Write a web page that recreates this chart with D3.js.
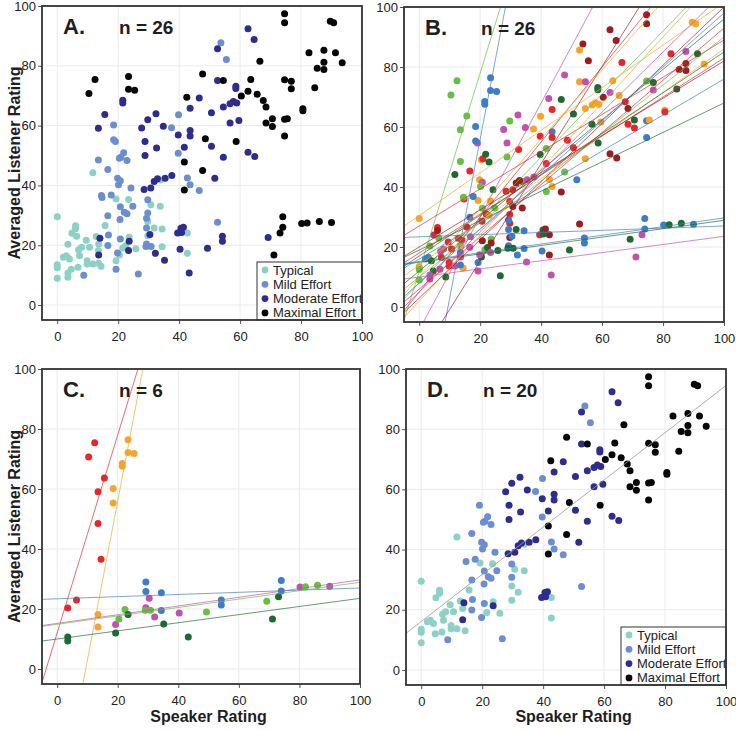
<!DOCTYPE html>
<html>
<head>
<meta charset="utf-8">
<script src="https://cdn.jsdelivr.net/npm/d3@7"></script>
<style>
  body { margin: 0; background: #fff; }
  svg { font-family: "Liberation Sans", Arial, sans-serif; }
</style>
</head>
<body>
<svg id="chart" width="736" height="730"></svg>
<script>
// points: [speaker rating, listener rating, colour in B, colour in C (only the six C speakers)]
const typical = [
  [0,29.5,"or"],[0,13.5,"or"],[0,12.5,"lg"],[0,9,"lg"],[2,16,"bl"],[3,16.5,"bl"],[4,15.4,"dg"],
  [4.8,24,"rd"],[6,26.5,"rd"],[6,25.5,"dr"],[4.6,12,"dg"],[6.8,12.6,"mg"],[7,18.5,"mg"],[7.3,16.5,"rd"],
  [8,19.3,"mg"],[9.5,21.7,"rd"],[9.8,14.8,"rd"],[9.8,13.7,"rd"],[10.6,19.3,"rd"],[11.7,13.7,"mg"],
  [12.8,22.9,"rd"],[13.6,20.4,"or"],[14.4,13,"or"],[15.7,26.6,"rd"],[11.7,44.2,"dg"],[19.3,35.5,"or"],
  [23.4,35.3,"or"],[23.6,22.7,"lg"],[21.5,19.1,"lg"],[25.8,18.8,"dg"],[29.7,27.9,"rd"],[29.7,23.2,"dr"],
  [30.7,33.5,"dr"],[31.8,25.8,"dg"],[33.8,33,"dr"],[33.8,41.8,"lg"],[42.7,24.1,"dr"],[42.7,17.3,"dr"],
  [3.5,20.3,"lg","rd"],[6.4,23,"lg","rd"],[13.5,18.2,"bl","or"],[13.5,14,"bl","or"],
  [34.4,25.4,"bl","bl"],[34.4,19.5,"bl","bl"],[19.3,14.8,"bl","mg"],[20.4,16.7,"dg","lg"],
  [22.4,19.8,"dg","lg"],[3.5,10.7,"mg","dg"],[3.5,9.3,"mg","dg"]
];
const mild = [
  [19.1,54.7,"mg"],[20.4,49.1,"or"],[20.9,49.4,"rd"],[21.8,50.9,"dg"],[22.9,48.3,"dg"],[16.6,45.3,"rd"],
  [14.7,36,"rd"],[17.7,36.8,"bl"],[19.8,42.4,"or"],[20.7,41.6,"mg"],[20.1,40.2,"lg"],[24.2,39.1,"dg"],
  [16.6,29.9,"bl"],[20.7,32.9,"lg"],[22,31,"rd"],[22.9,30.5,"or"],[24.8,33,"lg"],[20.6,28.6,"rd"],
  [16.8,23.4,"mg"],[16.6,19.9,"mg"],[19.8,17.4,"mg"],[20.7,22.1,"dr"],[8.7,10,"dg"],[26.6,10.4,"dg"],
  [29.7,35.2,"rd"],[29.7,30.8,"rd"],[39.8,63.6,"or"],[39.7,50.8,"dg"],[37.5,59.3,"or"],[42.7,42.5,"or"],
  [43.6,40.2,"or"],[46.6,38.3,"dr"],[53.7,87.7,"dr"],[55.5,82.1,"dr"],[52.6,27.7,"dr"],
  [13.5,48.5,"lg","rd"],[14.5,36.6,"lg","rd"],[18.5,60.2,"bl","or"],[18.5,55.3,"bl","or"],
  [29.3,29,"bl","bl"],[29.3,25.8,"bl","bl"],[29.3,20.4,"bl","mg"],[29.1,19.6,"dg","lg"],
  [30.8,19.6,"dg","lg"],[19.3,12,"mg","dg"]
];
const moderate = [
  [27.7,59.2,"mg"],[28.8,54.7,"mg"],[28.8,50,"lg"],[29.7,62,"lg"],[32.4,64,"mg"],[32.6,52.5,"rd"],
  [34.8,59.8,"mg"],[28.5,38.6,"rd"],[30.7,39.1,"rd"],[31.8,41.3,"dr"],[32.9,42.2,"dr"],[35.4,42.4,"mg"],
  [37.6,43.3,"mg"],[39.7,56.9,"rd"],[41.7,52.8,"lg"],[43.6,58.4,"bl"],[43.6,56.5,"rd"],[43.6,65.8,"rd"],
  [46.6,69.2,"dg"],[50.6,64.3,"dg"],[50.6,53.1,"rd"],[51.7,42.4,"bl"],[52.6,85.7,"or"],[52.6,75.1,"or"],
  [54.5,66.2,"or"],[54.5,49.4,"or"],[56.7,60.9,"dg"],[56.7,67.3,"or"],[57.8,68.1,"or"],[58.9,67.6,"or"],
  [58.6,73.2,"dg"],[58.6,72.4,"dg"],[59.6,61.7,"or"],[62.6,92.4,"dr"],[62.6,51.1,"dr"],[64.6,88.8,"dr"],
  [64.8,49.7,"dr"],[14,22.3,"rd"],[13.6,16.7,"mg"],[23.6,21.3,"dr"],[39.5,24.1,"rd"],[40.6,25.7,"dg"],
  [41.4,26,"dr"],[40.8,24.3,"dg"],
  [13.5,59.1,"lg","rd"],[15.6,63.7,"lg","rd"],[21.5,68.5,"bl","or"],[21.5,67.6,"bl","or"],
  [54.2,23,"bl","bl"],[54.2,21.3,"bl","bl"],[30.4,23.6,"bl","mg"],[32.2,17.3,"bl","mg"],
  [40.3,18.7,"bl","mg"],[49.3,19,"dg","lg"],[69.2,22.6,"dg","lg"],[23.4,18.2,"mg","dg"],
  [35.2,15,"mg","dg"],[43.3,10.7,"mg","dg"]
];
const maximal = [
  [42.5,69.5,"mg"],[41.7,47.8,"rd"],[41.7,38.5,"lg"],[47.7,77.3,"mg"],[47.7,45,"lg"],[48.6,55.6,"rd"],
  [54.5,75.1,"mg"],[58.7,54.7,"dg"],[60.4,69.9,"dr"],[62.6,71.5,"mg"],[63.5,75.4,"or"],[65.6,70.5,"or"],
  [66.5,81.5,"rd"],[67.6,68.4,"rd"],[68.5,66.2,"dr"],[68.5,60.9,"rd"],[70.6,62.3,"dg"],[70.6,59.7,"rd"],
  [74.6,97.4,"dr"],[74.6,94.4,"dr"],[74.6,75.3,"lg"],[74.6,62.1,"bl"],[75.5,62.3,"or"],[74.6,56.5,"bl"],
  [76.8,74.8,"dg"],[76.8,72.3,"mg"],[80.6,65.6,"or"],[80.6,65,"rd"],[82.6,84.4,"rd"],[84.5,72.7,"dg"],
  [85.3,79.2,"dr"],[87.5,85.2,"mg"],[87.5,81.2,"dr"],[87.5,78.8,"dr"],[89.6,94.9,"or"],[90.7,94.4,"or"],
  [91.3,84.4,"dg"],[93.5,81,"or"],
  [10.4,70.7,"lg","rd"],[12.4,75.4,"lg","rd"],[23.4,76.4,"bl","or"],[23.4,72.2,"bl","or"],
  [25.4,71.8,"bl","or"],[74,29.5,"bl","bl"],[74,26,"bl","bl"],[80.2,27.3,"bl","mg"],[90,27.6,"bl","mg"],
  [82,27.4,"dg","lg"],[86,27.9,"dg","lg"],[71.1,16.7,"mg","dg"],[73.1,24.1,"mg","dg"]
];

// per-speaker fit lines: [intercept, slope, colour]
const bLines = [
  [12,3.3,"lg"],[-50,5.3,"bl"],[23.4,0.036,"bl"],[15.2,0.145,"bl"],[14.9,0.14,"dg"],[10,0.1355,"mg"],
  [-7.6,1.89,"mg"],[-17,1.62,"dr"],[5,1.25,"rd"],[10,1.15,"or"],[8,1.05,"lg"],[30.5,0.71,"or"],
  [27,0.62,"rd"],[3,0.97,"dr"],[12,0.84,"dg"],[16,0.6,"bl"],[19,0.49,"dg"],[18,0.65,"rd"],
  [14,0.72,"or"],[10,0.8,"lg"],[6,0.87,"rd"],[5,1.0,"mg"],[17,0.68,"dg"],[2,1.1,"or"],
  [20,0.62,"dr"],[8,0.9,"bl"]
];
const cLines = [
  [12,3.3,"rd"],[-50,5.3,"or"],[23.4,0.036,"bl"],[15.2,0.145,"mg"],[14.9,0.14,"lg"],[10,0.1355,"dg"]
];
const dLine = [16.1, 0.784];

const severityNames = ["Typical", "Mild Effort", "Moderate Effort", "Maximal Effort"];
const severityColors = ["#8dd1c5", "#6b8ed0", "#2e2d8d", "#060606"];
const speakerColors = {
  bl: "#3c7dc5", lg: "#67be45", dg: "#1e6b32", rd: "#e5262b",
  or: "#f6a42c", mg: "#c251ae", dr: "#9b1d21"
};
const ticks = [0, 20, 40, 60, 80, 100];

const svg = d3.select("#chart");
const allPoints = [typical, mild, moderate, maximal]
  .flatMap((arr, s) => arr.map(p => ({x: p[0], y: p[1], sev: s, b: p[2], c: p[3]})));

const panels = [
  {id: "A", n: "26", x0: 42, x1: 362, y0: 6, y1: 320, yTitle: true, xTitle: false, legend: true},
  {id: "B", n: "26", x0: 404, x1: 724, y0: 7, y1: 322},
  {id: "C", n: "6", x0: 42, x1: 360, y0: 369, y1: 684, yTitle: true, xTitle: true},
  {id: "D", n: "20", x0: 406, x1: 726, y0: 369, y1: 685, xTitle: true, legend: true}
];

panels.forEach(drawPanel);

function drawPanel(cfg) {
  const g = svg.append("g");
  const x = d3.scaleLinear().domain([-5, 100]).range([cfg.x0, cfg.x1]);
  const y = d3.scaleLinear().domain([-5, 100]).range([cfg.y1, cfg.y0]);

  g.append("clipPath").attr("id", "clip" + cfg.id)
    .append("rect")
      .attr("x", cfg.x0).attr("y", cfg.y0)
      .attr("width", cfg.x1 - cfg.x0).attr("height", cfg.y1 - cfg.y0);

  // grid
  g.selectAll(".gx").data(ticks).join("line")
    .attr("x1", d => x(d)).attr("x2", d => x(d))
    .attr("y1", cfg.y0).attr("y2", cfg.y1)
    .style("stroke", "#ebebeb");
  g.selectAll(".gy").data(ticks).join("line")
    .attr("y1", d => y(d)).attr("y2", d => y(d))
    .attr("x1", cfg.x0).attr("x2", cfg.x1)
    .style("stroke", "#ebebeb");

  // axes
  const ax = g.append("g").attr("transform", `translate(0,${cfg.y1})`)
    .call(d3.axisBottom(x).tickValues(ticks).tickSize(4).tickPadding(8));
  const ay = g.append("g").attr("transform", `translate(${cfg.x0},0)`)
    .call(d3.axisLeft(y).tickValues(ticks).tickSize(4).tickPadding(2));
  [ax, ay].forEach(a => {
    a.select(".domain").remove();
    a.selectAll("line").style("stroke", "#555");
    a.selectAll("text").style("font-size", "13px").style("fill", "#222")
      .style("font-family", '"Liberation Sans", Arial, sans-serif');
  });

  const plot = g.append("g").attr("clip-path", `url(#clip${cfg.id})`);

  let pts, colour, lines = [];
  if (cfg.id === "A") { pts = allPoints; colour = d => severityColors[d.sev]; }
  if (cfg.id === "B") { pts = allPoints; colour = d => speakerColors[d.b]; lines = bLines; }
  if (cfg.id === "C") { pts = allPoints.filter(d => d.c); colour = d => speakerColors[d.c]; lines = cLines; }
  if (cfg.id === "D") {
    pts = allPoints.filter(d => !d.c); colour = d => severityColors[d.sev];
    lines = [[dLine[0], dLine[1], null]];
  }

  plot.selectAll("circle").data(pts).join("circle")
    .attr("cx", d => x(d.x)).attr("cy", d => y(d.y)).attr("r", 3.5)
    .style("fill", colour);

  plot.selectAll(".fit").data(lines).join("line")
    .attr("x1", x(-5)).attr("x2", x(100))
    .attr("y1", d => y(d[0] + d[1] * -5)).attr("y2", d => y(d[0] + d[1] * 100))
    .style("stroke", d => d[2] ? speakerColors[d[2]] : "#9a9a9a")
    .style("stroke-width", 0.8)
    .style("opacity", d => d[2] ? 0.85 : 1);

  // legend
  if (cfg.legend) {
    const lx = cfg.x1 - 105, ly = cfg.y1 - 58;
    const lg = g.append("g");
    lg.append("rect").attr("x", lx).attr("y", ly).attr("width", 105).attr("height", 58)
      .style("fill", "#fff").style("stroke", "#333").style("stroke-width", 1);
    severityNames.forEach((name, i) => {
      lg.append("circle").attr("cx", lx + 8).attr("cy", ly + 8 + i * 14.3).attr("r", 3.4)
        .style("fill", severityColors[i]);
      lg.append("text").attr("x", lx + 16).attr("y", ly + 8 + i * 14.3).attr("dy", "0.35em")
        .style("font-size", "13px").style("fill", "#222").text(name);
    });
  }

  // frame
  g.append("rect").attr("x", cfg.x0).attr("y", cfg.y0)
    .attr("width", cfg.x1 - cfg.x0).attr("height", cfg.y1 - cfg.y0)
    .style("fill", "none").style("stroke", "#333").style("stroke-width", 1.8);

  // panel labels
  g.append("text").attr("x", cfg.x0 + 21).attr("y", cfg.y0 + 28)
    .style("font-size", "22px").style("font-weight", "bold").style("fill", "#1e1e1e")
    .text(cfg.id + ".");
  g.append("text").attr("x", cfg.x0 + 77).attr("y", cfg.y0 + 28)
    .style("font-size", "19px").style("font-weight", "bold").style("fill", "#1e1e1e")
    .text("n = " + cfg.n);

  if (cfg.yTitle) {
    g.append("text")
      .attr("transform", `translate(20,${(cfg.y0 + cfg.y1) / 2}) rotate(-90)`)
      .attr("text-anchor", "middle")
      .style("font-size", "16px").style("font-weight", "bold").style("fill", "#1e1e1e")
      .text("Averaged Listener Rating");
  }
  if (cfg.xTitle) {
    g.append("text")
      .attr("x", x(50)).attr("y", 722)
      .attr("text-anchor", "middle")
      .style("font-size", "16px").style("font-weight", "bold").style("fill", "#1e1e1e")
      .text("Speaker Rating");
  }
}
</script>
</body>
</html>
